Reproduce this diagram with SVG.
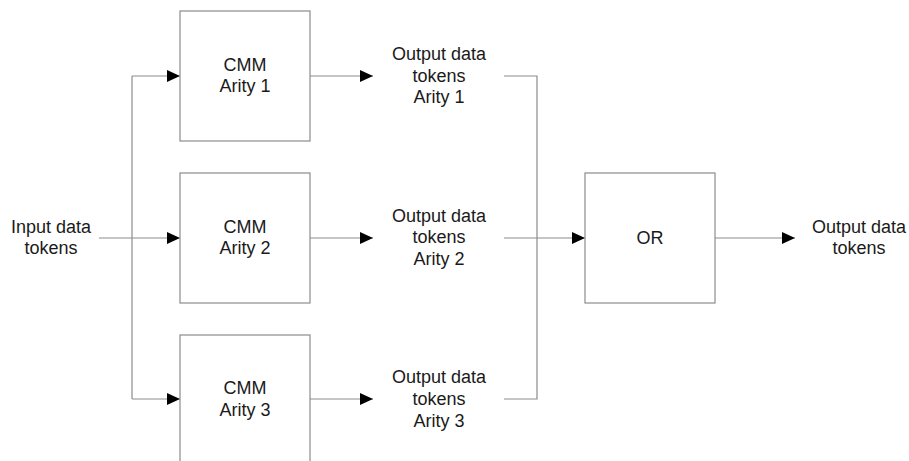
<svg xmlns="http://www.w3.org/2000/svg" width="909" height="461" viewBox="0 0 909 461">
<style>
.box{fill:#fff;stroke:#8c8c8c;stroke-width:1.2}
.ln{fill:none;stroke:#8c8c8c;stroke-width:1.2}
text{font-family:"Liberation Sans",Arial,sans-serif;font-size:18px;fill:#1a1a1a;text-anchor:middle}
</style>
<defs>
<marker id="ah" markerWidth="13" markerHeight="12" refX="13" refY="6" orient="auto" markerUnits="userSpaceOnUse">
<path d="M0,0 L13,6 L0,12 Z" fill="#000"/>
</marker>
</defs>
<rect width="909" height="461" fill="#fff"/>
<g id="connectors">
<path class="ln" d="M99,238 H180" marker-end="url(#ah)"/>
<path class="ln" d="M132,76 V399"/>
<path class="ln" d="M132,76 H180" marker-end="url(#ah)"/>
<path class="ln" d="M132,399 H180" marker-end="url(#ah)"/>
<path class="ln" d="M310,76 H373" marker-end="url(#ah)"/>
<path class="ln" d="M310,238 H373" marker-end="url(#ah)"/>
<path class="ln" d="M310,399 H373" marker-end="url(#ah)"/>
<path class="ln" d="M504,76 H537 V399 H504"/>
<path class="ln" d="M504,238 H585" marker-end="url(#ah)"/>
<path class="ln" d="M715,238 H795" marker-end="url(#ah)"/>
</g>
<g id="input">
<text x="51" y="233">Input data</text>
<text x="51" y="254">tokens</text>
</g>
<g id="cmm1">
<rect class="box" x="180" y="11" width="130" height="130"/>
<text x="245" y="71">CMM</text>
<text x="245" y="92">Arity 1</text>
</g>
<g id="cmm2">
<rect class="box" x="180" y="173" width="130" height="130"/>
<text x="245" y="233">CMM</text>
<text x="245" y="254">Arity 2</text>
</g>
<g id="cmm3">
<rect class="box" x="180" y="335" width="130" height="130"/>
<text x="245" y="394">CMM</text>
<text x="245" y="416">Arity 3</text>
</g>
<g id="out1">
<text x="439" y="60">Output data</text>
<text x="439" y="82">tokens</text>
<text x="439" y="103">Arity 1</text>
</g>
<g id="out2">
<text x="439" y="222">Output data</text>
<text x="439" y="243">tokens</text>
<text x="439" y="265">Arity 2</text>
</g>
<g id="out3">
<text x="439" y="383">Output data</text>
<text x="439" y="405">tokens</text>
<text x="439" y="427">Arity 3</text>
</g>
<g id="or">
<rect class="box" x="585" y="173" width="130" height="130"/>
<text x="650" y="244">OR</text>
</g>
<g id="output">
<text x="859" y="233">Output data</text>
<text x="859" y="254">tokens</text>
</g>
</svg>
